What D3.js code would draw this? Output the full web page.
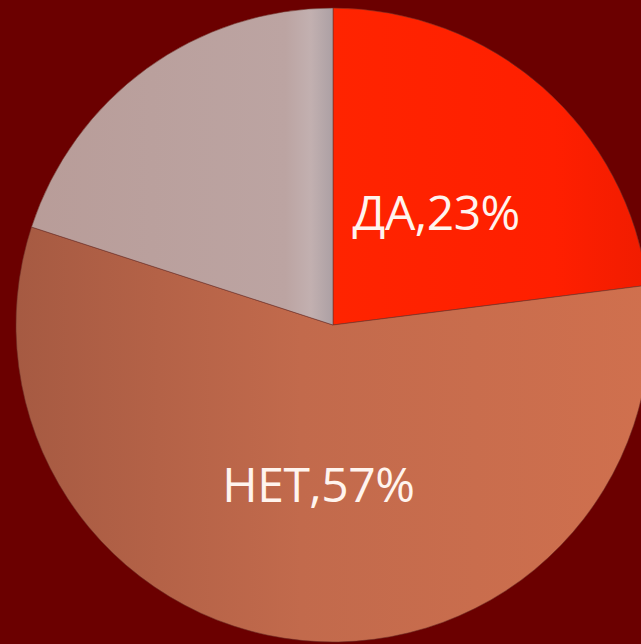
<!DOCTYPE html>
<html>
<head>
<meta charset="utf-8">
<script src="https://cdn.jsdelivr.net/npm/d3@7"></script>
<style>
  html, body { margin: 0; padding: 0; background: #6b0000; }
  svg { display: block; }
</style>
</head>
<body>
<div id="chart"></div>
<script>
// Chart data
const categories = ["ДА", "НЕТ", "другое"];
const values = [23, 57, 20];
const showLabel = [true, true, false];

const width = 641, height = 644;
const cx = 333, cy = 325, radius = 317;

const svg = d3.select("#chart")
    .append("svg")
    .attr("width", width)
    .attr("height", height);

svg.append("rect")
    .attr("width", width)
    .attr("height", height)
    .attr("fill", "#6b0000");

// Horizontal gradients per slice, in pie-local coordinates
const gradStops = [
    [["0%", "#ff2400"], ["70%", "#ff1f00"], ["100%", "#f01c00"]],
    [["0%", "#a65a42"], ["45%", "#c26a4c"], ["100%", "#d0704e"]],
    [["0%", "#b89c98"], ["85%", "#bca4a2"], ["93%", "#c2b0b0"], ["100%", "#aca0a4"]]
];
const gradRange = [[0, radius], [-radius, radius], [-radius, 0]];

const defs = svg.append("defs");
gradStops.forEach((stops, i) => {
    const gr = defs.append("linearGradient")
        .attr("id", "grad" + i)
        .attr("gradientUnits", "userSpaceOnUse")
        .attr("x1", gradRange[i][0])
        .attr("x2", gradRange[i][1])
        .attr("y1", 0).attr("y2", 0);
    stops.forEach(s => gr.append("stop").attr("offset", s[0]).attr("stop-color", s[1]));
});

const pie = d3.pie().sort(null).value(d => d);
const arcs = pie(values);

const arc = d3.arc().innerRadius(0).outerRadius(radius);
const labelArc = d3.arc().innerRadius(156).outerRadius(156);

const g = svg.append("g")
    .attr("transform", `translate(${cx},${cy})`);

g.selectAll(".slice")
    .data(arcs)
    .join("path")
    .attr("class", "slice")
    .attr("d", arc)
    .attr("fill", (d, i) => `url(#grad${i})`)
    .attr("stroke", "rgba(110,50,40,0.55)")
    .attr("stroke-width", 1);

g.selectAll(".label")
    .data(arcs.filter((d, i) => showLabel[i]))
    .join("text")
    .attr("class", "label")
    .attr("transform", d => `translate(${labelArc.centroid(d)})`)
    .attr("text-anchor", "middle")
    .attr("dy", "0.45em")
    .style("font-family", "'Open Sans', 'DejaVu Sans', sans-serif")
    .style("font-size", "48px")
    .style("letter-spacing", "-0.5px")
    .style("fill", "#fff4ee")
    .text(d => `${categories[d.index]},${d.value}%`);
</script>
</body>
</html>
